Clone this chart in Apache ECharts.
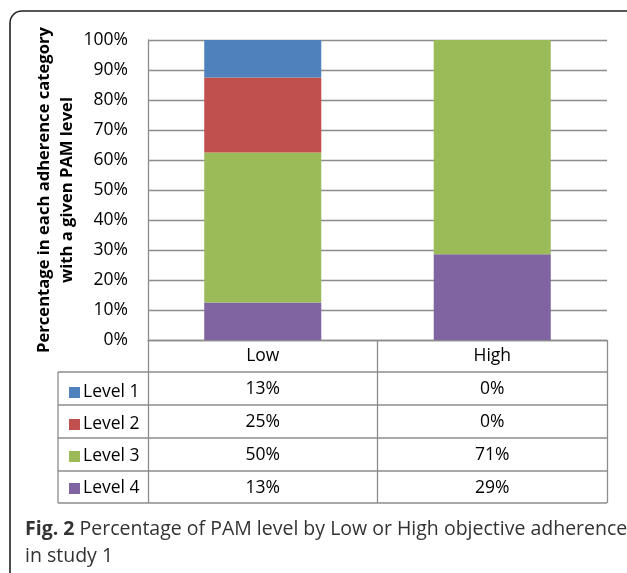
<!DOCTYPE html>
<html>
<head>
<meta charset="utf-8">
<script src="https://cdn.jsdelivr.net/npm/echarts@6/dist/echarts.min.js"></script>
<style>
html,body{margin:0;padding:0;background:#fff;}
#chart{width:627px;height:573px;}
</style>
</head>
<body>
<div id="chart"></div>
<script>
var categories = ['Low', 'High'];
var levelNames = ['Level 1', 'Level 2', 'Level 3', 'Level 4'];
var level1 = [12.5, 0];
var level2 = [25, 0];
var level3 = [50, 71.4];
var level4 = [12.5, 28.6];
var yTicks = [0, 10, 20, 30, 40, 50, 60, 70, 80, 90, 100];
var colors = {'Level 1': '#4F81BD', 'Level 2': '#C0504D', 'Level 3': '#9BBB59', 'Level 4': '#8064A2'};
var captionBold = 'Fig. 2';
var captionText = ' Percentage of PAM level by Low or High objective adherence';
var captionText2 = 'in study 1';

var levelData = {'Level 1': level1, 'Level 2': level2, 'Level 3': level3, 'Level 4': level4};
var GRID = '#8c8c8c';

var chart = echarts.init(document.getElementById('chart'), null, {renderer: 'canvas'});

var stackOrder = ['Level 4', 'Level 3', 'Level 2', 'Level 1'];
var series = stackOrder.map(function (n) {
  return {
    name: n, type: 'bar', stack: 'total', barWidth: '51%',
    data: levelData[n],
    itemStyle: {color: colors[n]},
    emphasis: {disabled: true}
  };
});

// table row lines
var rowYs = [372, 405, 438, 471, 503];
var graphics = [];
rowYs.forEach(function (y) {
  graphics.push({type: 'line', shape: {x1: 58, y1: y, x2: 607, y2: y}, style: {stroke: GRID, lineWidth: 1.3}, z: 10});
});
graphics.push({type: 'line', shape: {x1: 58, y1: 372, x2: 58, y2: 503}, style: {stroke: GRID, lineWidth: 1.3}, z: 10});
// outer rounded frame
graphics.push({type: 'rect', shape: {x: 10, y: 11, width: 660, height: 640, r: 12}, style: {fill: null, stroke: '#222', lineWidth: 1.6}, z: 10});
// caption
graphics.push({
  type: 'text', left: 25, top: 516, z: 10,
  style: {
    text: '{b|' + captionBold + '}' + captionText + '\n' + captionText2,
    font: '19.5px "Open Sans", sans-serif', fill: '#333', lineHeight: 27,
    rich: {b: {fontWeight: 'bold', fontSize: 19.5, fontFamily: 'Open Sans', fill: '#333', lineHeight: 27}}
  }
});

chart.setOption({
  animation: false,
  grid: {left: 148, top: 40, right: 20, bottom: 233, containLabel: false},
  legend: {
    orient: 'vertical', left: 64, top: 377,
    data: levelNames, icon: 'rect', itemWidth: 11, itemHeight: 11, itemGap: 11,
    selectedMode: false,
    textStyle: {fontFamily: 'Open Sans', fontSize: 17.5, color: '#000', lineHeight: 21, padding: [0, 0, 0, -2]}
  },
  xAxis: {
    type: 'category', data: categories,
    axisLine: {show: true, lineStyle: {color: GRID, width: 1.3}},
    axisTick: {show: true, length: 163, interval: 0, lineStyle: {color: GRID, width: 1.3}},
    axisLabel: {
      margin: 0, interval: 0,
      formatter: function (v, i) {
        var lines = ['{c|' + v + '}'];
        levelNames.forEach(function (n) { lines.push('{c|' + Math.round(levelData[n][i]) + '%}'); });
        return lines.join('\n');
      },
      rich: {c: {fontFamily: 'Open Sans', fontSize: 17.5, color: '#000', lineHeight: 33, height: 33}}
    }
  },
  yAxis: {
    type: 'value', min: 0, max: 100, interval: 10,
    name: 'Percentage in each adherence category\nwith a given PAM level',
    nameLocation: 'middle', nameRotate: 90, nameGap: 69, nameMoveOverlap: false,
    nameTextStyle: {fontFamily: 'Open Sans', fontWeight: 'bold', fontSize: 16.6, color: '#000', lineHeight: 23},
    axisLine: {show: true, lineStyle: {color: GRID, width: 1.3}},
    axisTick: {show: false},
    splitLine: {lineStyle: {color: GRID, width: 1.3}},
    axisLabel: {margin: 20, fontFamily: 'Open Sans', fontSize: 17.5, color: '#000', formatter: '{value}%',
      customValues: yTicks}
  },
  graphic: graphics,
  series: series
});
</script>
</body>
</html>
